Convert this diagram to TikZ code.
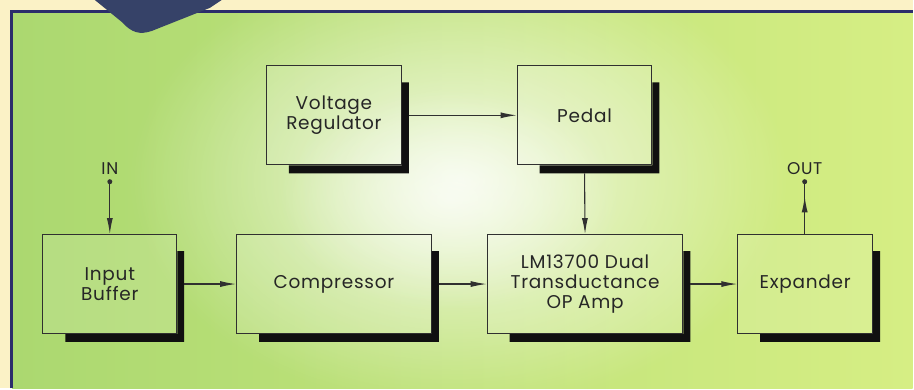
\documentclass[tikz,border=0pt]{standalone}
\usepackage{fontspec}
\setmainfont{Poppins}[LetterSpace=4]
\usetikzlibrary{arrows.meta,calc,fadings}
\definecolor{cream}{HTML}{FBF2C6}
\definecolor{frameblue}{HTML}{2B2D6B}
\definecolor{gleft}{HTML}{ABD870}
\definecolor{gmid}{HTML}{E2F2C0}
\definecolor{gright}{HTML}{D6EE84}
\definecolor{linec}{HTML}{303030}
\definecolor{textc}{HTML}{262626}
\definecolor{shadowc}{HTML}{101010}
\definecolor{blobc}{HTML}{364268}
\tikzfading[name=softglow, inner color=transparent!0, outer color=transparent!100]
\tikzset{
  blk/.style={draw=linec, line width=1.1pt, minimum width=135pt, minimum height=99pt,
    inner sep=0pt, align=center, text=textc, fill=white, fill opacity=0.12, text opacity=1,
    font=\fontsize{18.5}{20}\selectfont},
  lbl/.style={text=textc, inner sep=0pt, font=\fontsize{17}{18}\selectfont},
  conn/.style={draw=linec, line width=1.1pt},
  arr/.style={conn, -{Latex[length=16pt,width=6pt]}},
  dotc/.style={fill=linec},
  glow/.style={white, path fading=softglow}
}
\newcommand\mkshadow[1]{%
  \fill[shadowc] ($(#1.south west)+(23,0)$) -- (#1.south east) -- ($(#1.north east)+(0,17)$)
    -- ($(#1.north east)+(7,17)$) -- ($(#1.south east)+(7,8)$) -- ($(#1.south west)+(23,8)$) -- cycle;}
\begin{document}
\begin{tikzpicture}[x=1pt,y=-1pt]
% background
\fill[cream] (0,0) rectangle (914,389);
\shade[left color=gleft, middle color=gmid, right color=gright] (12,12) rectangle (914,389);
\begin{scope}
\clip (12,12) rectangle (914,389);
\fill[glow, fill opacity=0.8] (460,180) ellipse (330 and 230);
\fill[glow, fill opacity=0.6] (450,200) ellipse (170 and 110);
\end{scope}
\draw[frameblue, line width=3pt] (11.5,389) -- (11.5,11.5) -- (914,11.5);
% top blob
\fill[blobc] (95,0) -- (122,22) .. controls (132,33) and (140,35) .. (152,31) -- (210,8) -- (222,0) -- cycle;
% blocks
\node[blk] (vr) at (334.5,115.5) {Voltage\\Regulator};
\node[blk] (pd) at (585.5,115.5) {Pedal};
\node[blk, minimum width=134pt] (ib) at (110,284.5) {Input\\Buffer};
\node[blk, minimum width=195pt] (cp) at (334.5,284.5) {Compressor};
\node[blk, minimum width=196pt] (lm) at (586,284.5) {LM13700 Dual\\Transductance\\OP Amp};
\node[blk] (ex) at (806.5,284.5) {Expander};
\foreach \b in {vr,pd,ib,cp,lm,ex}{\mkshadow{\b}}
% IN / OUT
\coordinate (indot) at (110,182);
\coordinate (outdot) at (806,182);
\node[lbl, anchor=base] (inl) at (110,175) {IN};
\node[lbl, anchor=base] (outl) at (806,175) {OUT};
\fill[dotc] (indot) circle (2.5);
\fill[dotc] (outdot) circle (2.5);
% connectors
\draw[arr] (indot) -- (ib.north);
\draw[conn] (ex.north -| outdot) -- (outdot);
\draw[arr] (ex.north -| outdot) -- ($(ex.north -| outdot)!0.72!(outdot)$);
\draw[arr] ([xshift=7pt]vr.east) -- (pd.west);
\draw[arr] ([yshift=-8pt]pd.south) -- (lm.north);
\draw[arr] ([xshift=7pt]ib.east) -- (cp.west);
\draw[arr] ([xshift=7pt]cp.east) -- (lm.west);
\draw[arr] ([xshift=7pt]lm.east) -- (ex.west);
\end{tikzpicture}
\end{document}
